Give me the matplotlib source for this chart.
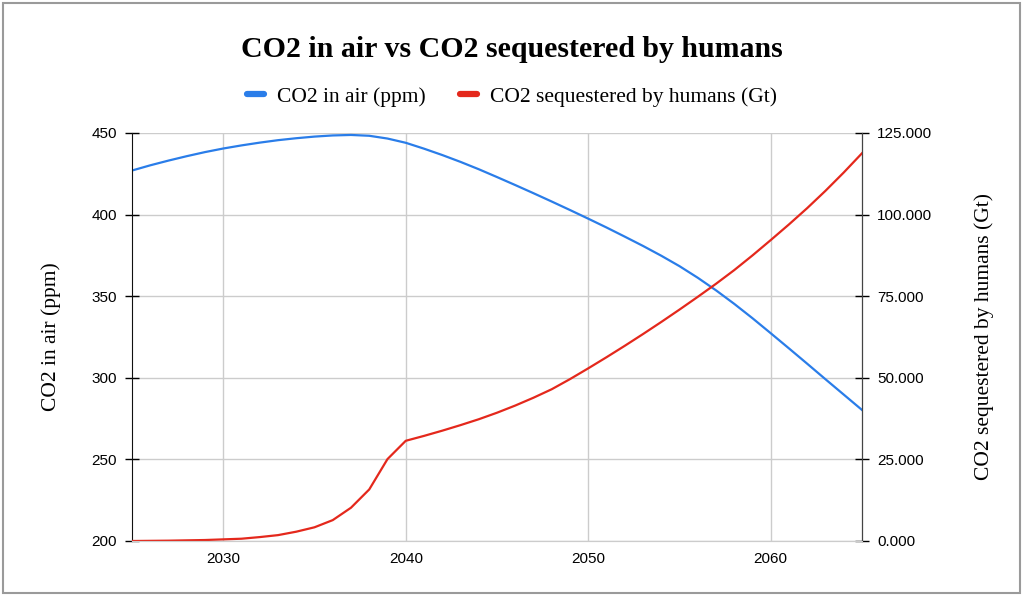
import numpy as np
import matplotlib.pyplot as plt
from matplotlib.patches import Rectangle
from matplotlib.ticker import FuncFormatter

# yearly values
years = list(range(2025, 2066))
co2_air_ppm = [427.0, 430.2, 433.1, 435.8, 438.3, 440.5, 442.4, 444.1, 445.6, 446.8,
               447.8, 448.5, 448.8, 448.3, 446.6, 444.0, 440.4, 436.5, 432.3, 427.8,
               423.0, 418.1, 413.1, 408.0, 402.8, 397.5, 392.1, 386.5, 380.8, 374.8,
               368.4, 361.3, 353.6, 345.3, 336.5, 327.3, 318.0, 308.6, 299.1, 289.7,
               280.3]
co2_sequestered_gt = [0.0, 0.05, 0.1, 0.2, 0.3, 0.5, 0.7, 1.2, 1.8, 2.85,
                      4.2, 6.4, 10.2, 15.8, 25.1, 30.7, 32.2, 33.8, 35.5, 37.3,
                      39.3, 41.5, 43.9, 46.5, 49.6, 52.9, 56.3, 59.8, 63.4, 67.1,
                      70.9, 74.8, 78.8, 83.0, 87.5, 92.2, 97.0, 102.0, 107.3, 112.9,
                      118.8]

x_ticks = [2030, 2040, 2050, 2060]
left_ticks = [200, 250, 300, 350, 400, 450]
right_ticks = [0, 25, 50, 75, 100, 125]

blue = "#2a7de9"
red = "#e4281c"
grid_col = "#cccccc"
serif = "Liberation Serif"
sans = "Liberation Sans"

fig = plt.figure(figsize=(10.24, 5.98), dpi=100)
ax = fig.add_axes([132 / 1024, 57 / 598, 730 / 1024, 408 / 598])
ax2 = ax.twinx()

l1, = ax.plot(years, co2_air_ppm, color=blue, lw=1.6, label="CO2 in air (ppm)")
l2, = ax2.plot(years, co2_sequestered_gt, color=red, lw=1.6,
               label="CO2 sequestered by humans (Gt)")

ax.set_xlim(2025, 2065)
ax.set_ylim(200, 450)
ax2.set_ylim(0, 125)
ax.set_xticks(x_ticks)
ax.set_yticks(left_ticks)
ax2.set_yticks(right_ticks)
ax2.yaxis.set_major_formatter(FuncFormatter(lambda v, p: f"{v:.3f}"))

ax.grid(True, color=grid_col, lw=1.0)
ax.set_axisbelow(True)

for a in (ax, ax2):
    a.spines["top"].set_visible(False)
    a.spines["bottom"].set_color(grid_col)
    a.tick_params(labelsize=11, direction="inout", length=10, width=1.0)
    for lab in a.get_yticklabels() + a.get_xticklabels():
        lab.set_fontfamily(sans)
ax.spines["left"].set_color("#111111")
ax2.spines["left"].set_visible(False)
ax2.spines["right"].set_color("#444444")
ax.tick_params(axis="x", length=0, pad=8)
ax.tick_params(axis="y", pad=6)
ax2.tick_params(axis="y", pad=6)

ax.set_ylabel("CO2 in air (ppm)", fontsize=15.5, family=serif, labelpad=22)
ax2.set_ylabel("CO2 sequestered by humans (Gt)", fontsize=15.5, family=serif, labelpad=30)

fig.text(0.5, 0.918, "CO2 in air vs CO2 sequestered by humans", ha="center", va="center",
         fontsize=21.5, fontweight="bold", family=serif)

leg = fig.legend(handles=[l1, l2], loc="center", bbox_to_anchor=(0.5, 0.838), ncol=2,
                 frameon=False, prop={"family": serif, "size": 15.5},
                 handlelength=0.8, handletextpad=0.6, columnspacing=1.6)
for h in leg.get_lines():
    h.set_linewidth(4.5)
    h.set_solid_capstyle("round")

fig.patches.append(Rectangle((3 / 1024, 5 / 598), 1017 / 1024, 590 / 598,
                             transform=fig.transFigure, fill=False,
                             edgecolor="#9a9a9a", lw=1.5))

fig.savefig("out.png", dpi=100)
